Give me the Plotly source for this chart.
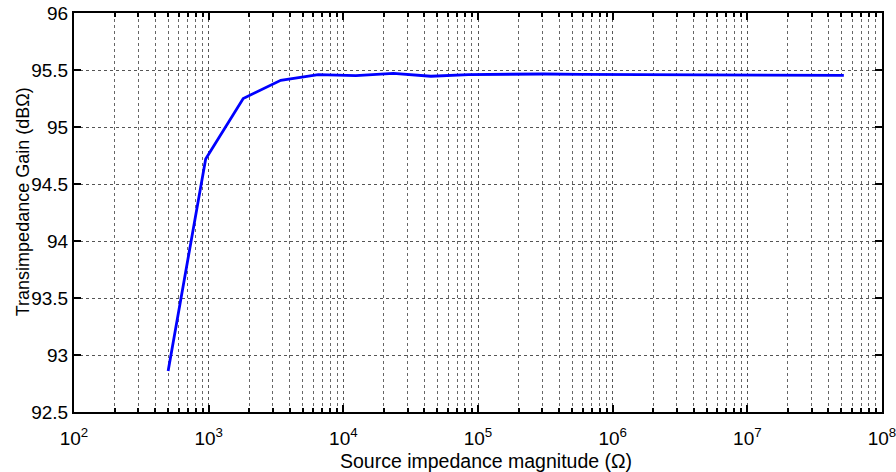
import plotly.graph_objects as go

# Source impedance magnitude (Ohm)
impedance = [500, 950, 1805, 3430, 6516, 12381, 23523, 44695, 84921,
             161350, 306565, 582473, 1106700, 2102730, 3995190, 7590860,
             14422600, 27403000, 52065700]
# Transimpedance gain (dB Ohm)
gain = [92.86, 94.72, 95.25, 95.41, 95.46, 95.45, 95.47, 95.445, 95.46,
        95.465, 95.465, 95.462, 95.46, 95.458, 95.46, 95.455, 95.452,
        95.452, 95.452]

x_tick_vals = [1e2, 1e3, 1e4, 1e5, 1e6, 1e7, 1e8]
x_tick_text = ["10<sup>2</sup>", "10<sup>3</sup>", "10<sup>4</sup>", "10<sup>5</sup>",
               "10<sup>6</sup>", "10<sup>7</sup>", "10<sup>8</sup>"]
minor_digits = [2, 3, 4, 5, 6, 7, 8, 9]
decades = [1e2, 1e3, 1e4, 1e5, 1e6, 1e7]
x_minor_vals = [d * m for d in decades for m in minor_digits]

y_tick_vals = [92.5, 93, 93.5, 94, 94.5, 95, 95.5, 96]
y_tick_text = ["92.5", "93", "93.5", "94", "94.5", "95", "95.5", "96"]

x_title = "Source impedance magnitude (Ω)"
y_title = "Transimpedance Gain (dBΩ)"

fig = go.Figure()
fig.add_trace(go.Scatter(x=impedance, y=gain, mode="lines",
                         line=dict(color="#0000FF", width=2.8),
                         showlegend=False))

font = "Liberation Sans, Arial, Helvetica, sans-serif"
fig.update_layout(
    width=896, height=472,
    margin=dict(l=74, r=14, t=13, b=60),
    paper_bgcolor="white", plot_bgcolor="white",
    font=dict(family=font, color="black", size=19),
)
fig.update_xaxes(
    type="log", range=[2, 8], automargin=False,
    tickmode="array", tickvals=x_tick_vals, ticktext=x_tick_text,
    ticks="inside", ticklen=7, tickwidth=2, tickcolor="black",
    showline=True, linecolor="black", linewidth=2, mirror="ticks",
    showgrid=True, gridcolor="#555555", griddash="dot", gridwidth=1,
    minor=dict(tickmode="array", tickvals=x_minor_vals, ticks="inside",
               ticklen=4, tickwidth=1.5, tickcolor="black",
               showgrid=True, gridcolor="#666666", griddash="dot", gridwidth=1),
    tickfont=dict(size=19), ticklabeloverflow="allow", ticklabelstandoff=8,
    zeroline=False,
)
fig.update_yaxes(
    range=[92.5, 96], automargin=False,
    tickmode="array", tickvals=y_tick_vals, ticktext=y_tick_text,
    ticks="inside", ticklen=7, tickwidth=2, tickcolor="black",
    showline=True, linecolor="black", linewidth=2, mirror="ticks",
    showgrid=True, gridcolor="#555555", griddash="dot", gridwidth=1,
    tickfont=dict(size=19), ticklabeloverflow="allow",
    zeroline=False,
)
fig.add_annotation(text=x_title, xref="paper", yref="paper", x=0.51, y=-0.122,
                   xanchor="center", yanchor="middle", showarrow=False,
                   font=dict(size=19.5))
fig.add_annotation(text=y_title, xref="paper", yref="paper", x=-0.063, y=0.526,
                   xanchor="center", yanchor="middle", showarrow=False,
                   textangle=-90, font=dict(size=18))

fig.write_html("out.html", config={"displayModeBar": False},
               post_script="document.body.style.margin='0';")
